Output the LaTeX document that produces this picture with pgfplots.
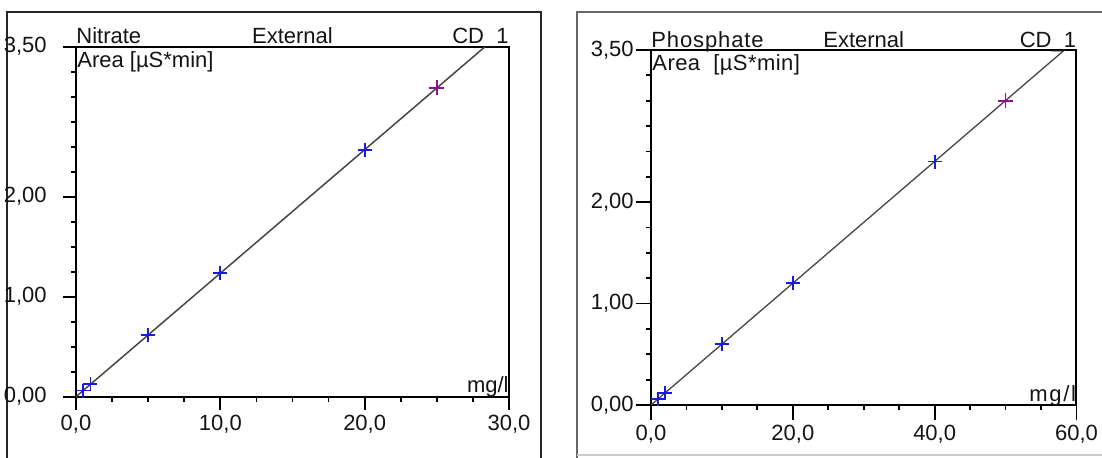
\documentclass[border=0pt]{standalone}
\usepackage{fontspec}
\setmainfont{Liberation Sans}
\usepackage{pgfplots}
\pgfplotsset{compat=1.18}

\definecolor{ptblue}{RGB}{25,25,230}
\definecolor{ptpurple}{RGB}{135,20,140}
\definecolor{fitgray}{RGB}{70,70,70}
\definecolor{txt}{RGB}{20,20,20}

% common look of both calibration plots (1 px of the screenshot = 0.5pt)
\pgfplotsset{calib/.style={
  scale only axis,
  clip=false,
  axis line style={line width=1pt, black},
  every tick/.style={black, line width=0.9pt},
  tick align=outside,
  tick pos=left,
  major tick length=6.5pt,
  minor tick length=2.6pt,
  minor x tick num=3,
  ymin=0, ymax=3.5,
  ytick={0,1,2,3.5},
  yticklabels={{0,00},{1,00},{2,00},{3,50}},
  minor ytick={0,0.25,...,3.5},
  font=\fontsize{11}{12}\selectfont,
  every tick label/.append style={txt},
  xticklabel style={anchor=north, inner sep=0pt, yshift=-2.5pt},
  yticklabel style={anchor=east, inner sep=0pt},
}}

\begin{document}
\begin{tikzpicture}
\path[use as bounding box] (0,0) rectangle (551pt,228.5pt);
\clip (0,0) rectangle (551pt,228.5pt);

% panel frames
\draw[line width=1pt, black!85] (3.5pt,-5pt) -- (3.5pt,222.5pt) -- (270.5pt,222.5pt) -- (270.5pt,-5pt);
\draw[line width=1.2pt, black!60] (288.5pt,-5pt) -- (288.5pt,222.5pt) -- (560pt,222.5pt);
\draw[line width=0.8pt, black!20] (288.5pt,1pt) -- (560pt,1pt);

% Nitrate
\begin{axis}[calib,
  at={(38pt,30.15pt)}, anchor=origin,
  width=216.5pt, height=175pt,
  xmin=0, xmax=30,
  xtick={0,10,20,30},
  xticklabels={{0,0},{10,0},{20,0},{30,0}},
  yticklabel style={xshift=-8pt},
]
\addplot[fitgray, line width=0.75pt, no marks] coordinates {(0,0) (28.34,3.5)};
\addplot[only marks, mark=+, mark size=3.5pt, ptblue, mark options={line width=0.9pt}]
  coordinates {(0.5,0.062) (1.0,0.124) (5,0.62) (10,1.24) (20,2.47)};
\addplot[only marks, mark=+, mark size=3.8pt, ptpurple, mark options={line width=0.9pt}]
  coordinates {(25,3.09)};
\node[txt, anchor=base west, inner sep=0pt] at ([yshift=1.5pt]rel axis cs:0,1) {Nitrate};
\node[txt, anchor=base, inner sep=0pt] at ([yshift=1.5pt]rel axis cs:0.5,1) {External};
\node[txt, anchor=base east, inner sep=0pt] at ([yshift=1.5pt]rel axis cs:1,1) {CD\_1};
\node[txt, anchor=north west, inner sep=0pt] at ([xshift=0.5pt,yshift=-2pt]rel axis cs:0,1) {Area [µS*min]};
\node[txt, anchor=base east, inner sep=0pt] at ([yshift=2pt]rel axis cs:1,0) {mg/l};
\end{axis}

% Phosphate
\begin{axis}[calib,
  at={(325.5pt,26pt)}, anchor=origin,
  width=212.75pt, height=177.5pt,
  major tick length=7.5pt,
  xmin=0, xmax=60,
  xtick={0,20,40,60},
  xticklabels={{0,0},{20,0},{40,0},{60,0}},
  yticklabel style={xshift=-1pt},
]
\addplot[fitgray, line width=0.65pt, no marks] coordinates {(0,0) (58.3,3.5)};
\addplot[only marks, mark=+, mark size=3.5pt, ptblue, mark options={line width=0.9pt}]
  coordinates {(1,0.06) (2,0.12) (10,0.60) (20,1.20) (40,2.40)};
\addplot[only marks, mark=+, mark size=3.8pt, ptpurple, mark options={line width=0.9pt}]
  coordinates {(50,3.00)};
\node[txt, anchor=base west, inner sep=0pt] at ([yshift=1.5pt]rel axis cs:0,1) {\addfontfeature{LetterSpace=4}Phosphate};
\node[txt, anchor=base, inner sep=0pt] at ([yshift=1.5pt]rel axis cs:0.5,1) {External};
\node[txt, anchor=base east, inner sep=0pt] at ([yshift=1.5pt]rel axis cs:1,1) {CD\_1};
\node[txt, anchor=north west, inner sep=0pt] at ([xshift=0.5pt,yshift=-2pt]rel axis cs:0,1) {\addfontfeature{LetterSpace=2}Area\ \ [µS*min]};
\node[txt, anchor=base east, inner sep=0pt] at ([yshift=2pt]rel axis cs:1,0) {\addfontfeature{LetterSpace=8}mg/l};
\end{axis}
\end{tikzpicture}
\end{document}
